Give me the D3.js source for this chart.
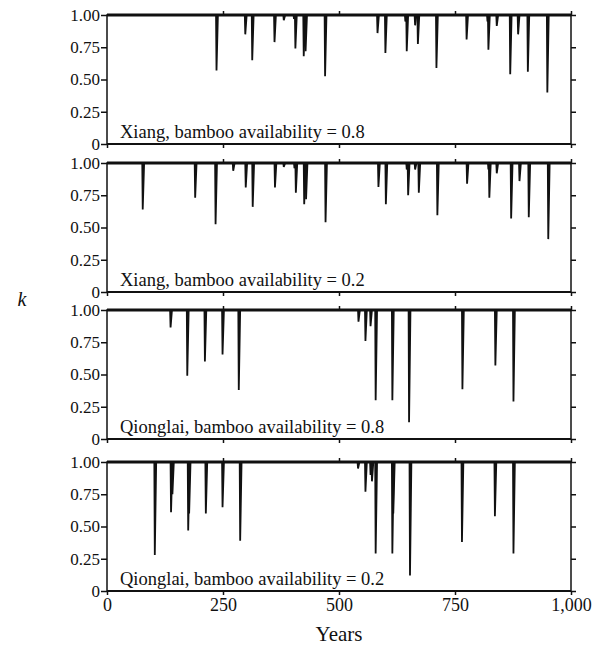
<!DOCTYPE html>
<html lang="en">
<head>
<meta charset="UTF-8">
<title>k over 1,000 years</title>
<script src="https://d3js.org/d3.v7.min.js"></script>
<style>
  body { margin: 0; background: #fff; }
</style>
</head>
<body>
<div id="chart"></div>
<script>
// x ticks (years) and y ticks (k)
const yearTicks = [0, 250, 500, 750, 1000];
const kTicks = [0, 0.25, 0.5, 0.75, 1];

const panelLabels = [
  "Xiang, bamboo availability = 0.8",
  "Xiang, bamboo availability = 0.2",
  "Qionglai, bamboo availability = 0.8",
  "Qionglai, bamboo availability = 0.2"
];

// dips: [year, minimum k]
const xiang08 = [
  [236, 0.57], [298, 0.85], [313, 0.65], [361, 0.79], [381, 0.96], [403, 0.97],
  [406, 0.74], [424, 0.68], [428, 0.72], [470, 0.525], [583, 0.86], [600, 0.705],
  [643, 0.95], [646, 0.72], [664, 0.92], [670, 0.775], [710, 0.59], [775, 0.81],
  [820, 0.95], [822, 0.73], [840, 0.915], [869, 0.54], [886, 0.85], [907, 0.56],
  [949, 0.40]
];
const xiang02 = [
  [77, 0.64], [190, 0.73], [234, 0.525], [272, 0.94], [299, 0.81], [314, 0.66],
  [362, 0.81], [381, 0.97], [404, 0.96], [407, 0.77], [425, 0.68], [429, 0.72],
  [471, 0.54], [585, 0.815], [601, 0.68], [646, 0.95], [649, 0.75], [664, 0.95],
  [672, 0.77], [712, 0.595], [776, 0.84], [822, 0.95], [824, 0.73], [840, 0.92],
  [871, 0.57], [889, 0.86], [909, 0.58], [951, 0.41]
];
const qionglai08 = [
  [137, 0.865], [173, 0.49], [211, 0.60], [249, 0.655], [284, 0.38],
  [542, 0.91], [557, 0.76], [568, 0.875], [579, 0.30], [615, 0.30],
  [651, 0.13], [766, 0.385], [837, 0.57], [876, 0.29]
];
const qionglai02 = [
  [103, 0.28], [138, 0.61], [141, 0.75], [175, 0.47], [177, 0.6], [213, 0.60],
  [249, 0.65], [287, 0.39], [541, 0.95], [557, 0.77], [568, 0.90], [571, 0.85],
  [579, 0.29], [615, 0.29], [617, 0.6], [653, 0.12], [765, 0.38], [836, 0.58],
  [876, 0.29]
];
const series = [xiang08, xiang02, qionglai08, qionglai02];

const width = 605, height = 648;
const plotLeft = 107, plotRight = 571;
const panelTops = [15, 163, 310, 462];
const panelH = 129;
const serif = '"Liberation Serif", "Times New Roman", serif';

const svg = d3.select("#chart").append("svg")
  .attr("width", width).attr("height", height);

const x = d3.scaleLinear().domain([0, 1000]).range([plotLeft, plotRight]);

series.forEach((dips, i) => {
  const top = panelTops[i];
  const y = d3.scaleLinear().domain([0, 1]).range([top + panelH, top]);
  const g = svg.append("g");

  // dips as thin spikes: drop at the year, recovery a few years later
  const spike = d3.line().x(p => x(p[0])).y(p => y(p[1]));
  dips.forEach(d => {
    g.append("path")
      .datum([[d[0] - 1, 1], [d[0], d[1]], [d[0] + 3, 1]])
      .attr("d", spike)
      .attr("fill", "#111")
      .attr("stroke", "#111")
      .attr("stroke-width", 1.8)
      .attr("stroke-linejoin", "miter");
  });

  // k = 1 baseline (thick)
  g.append("line")
    .attr("x1", x(0)).attr("x2", x(1000))
    .attr("y1", y(1)).attr("y2", y(1))
    .attr("stroke", "#111").attr("stroke-width", 3);

  // frame
  g.append("rect")
    .attr("x", x(0)).attr("y", y(1))
    .attr("width", x(1000) - x(0)).attr("height", y(0) - y(1))
    .attr("fill", "none").attr("stroke", "#111").attr("stroke-width", 1.5);
  g.append("line")
    .attr("x1", x(0)).attr("x2", x(1000))
    .attr("y1", y(0)).attr("y2", y(0))
    .attr("stroke", "#111").attr("stroke-width", 2.2);

  // left axis
  const left = g.append("g")
    .attr("transform", `translate(${x(0)},0)`)
    .call(d3.axisLeft(y).tickValues(kTicks).tickSize(6).tickPadding(1)
      .tickFormat(d => d === 0 ? "0" : d3.format(".2f")(d)));
  left.select(".domain").remove();
  left.selectAll("line").attr("stroke", "#111").attr("stroke-width", 1.5);
  left.selectAll("text")
    .style("font-family", serif).style("font-size", "17px").attr("fill", "#111");

  // right axis (ticks outward)
  const right = g.append("g")
    .attr("transform", `translate(${x(1000)},0)`)
    .call(d3.axisRight(y).tickValues(kTicks).tickSize(5).tickFormat(""));
  right.select(".domain").remove();
  right.selectAll("line").attr("stroke", "#111").attr("stroke-width", 1.5);

  // top ticks
  const topAx = g.append("g")
    .attr("transform", `translate(0,${y(1)})`)
    .call(d3.axisTop(x).tickValues(yearTicks.slice(1)).tickSize(4).tickFormat(""));
  topAx.select(".domain").remove();
  topAx.selectAll("line").attr("stroke", "#111").attr("stroke-width", 1.5);

  // bottom ticks, labels only on last panel
  const bottom = g.append("g")
    .attr("transform", `translate(0,${y(0)})`)
    .call(d3.axisBottom(x).tickValues(yearTicks).tickSize(4).tickPadding(3)
      .tickFormat(i === series.length - 1 ? d3.format(",") : ""));
  bottom.select(".domain").remove();
  bottom.selectAll("line").attr("stroke", "#111").attr("stroke-width", 1.5);
  bottom.selectAll("text")
    .style("font-family", serif).style("font-size", "18px").attr("fill", "#111");

  // panel label
  g.append("text")
    .attr("x", plotLeft + 13)
    .attr("y", y(0) - 6)
    .style("font-family", serif).style("font-size", "18.5px")
    .attr("fill", "#111")
    .text(panelLabels[i]);
});

// axis titles
svg.append("text")
  .attr("x", 339).attr("y", 641)
  .attr("text-anchor", "middle")
  .style("font-family", serif).style("font-size", "21px")
  .attr("fill", "#111")
  .text("Years");

svg.append("text")
  .attr("x", 22).attr("y", 306)
  .attr("text-anchor", "middle")
  .style("font-family", serif).style("font-size", "20px")
  .style("font-style", "italic")
  .attr("fill", "#111")
  .text("k");
</script>
</body>
</html>
